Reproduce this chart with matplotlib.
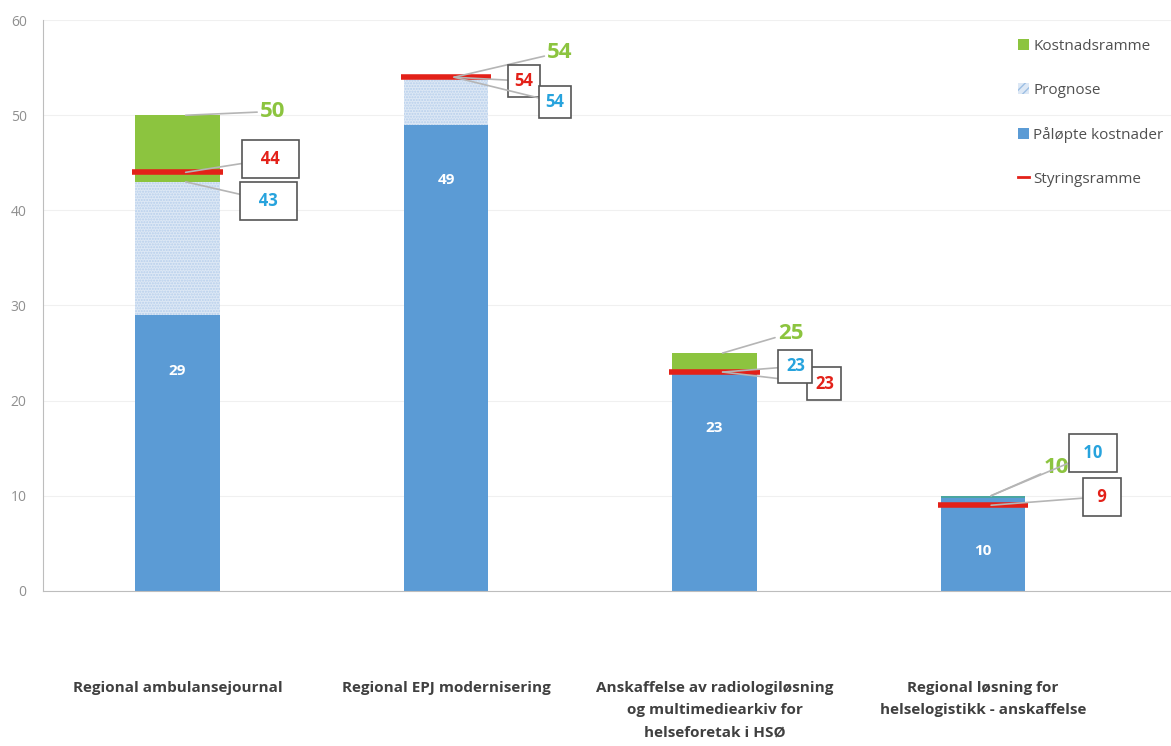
import matplotlib.pyplot as plt
from matplotlib.patches import Patch
from matplotlib.lines import Line2D

plt.rcParams['font.family'] = ['Open Sans', 'DejaVu Sans']

# project names and cost figures (MNOK)
projects = [
    'Regional ambulansejournal',
    'Regional EPJ modernisering',
    'Anskaffelse av radiologiløsning\nog multimediearkiv for\nhelseforetak i HSØ',
    'Regional løsning for\nhelselogistikk - anskaffelse',
]
paalopte = [29, 49, 23, 10]
prognose = [43, 54, 23, 10]
kostnadsramme = [50, 54, 25, 10]
styringsramme = [44, 54, 23, 9]

# label placement relative to each bar (x offset, y value)
green_pos = [(0.354, 50.4), (0.424, 56.6), (0.283, 27.1), (0.272, 13.0)]
red_pos = [(0.346, 45.4), (0.290, 53.6), (0.409, 21.75), (0.443, 9.9)]
blue_pos = [(0.339, 41.0), (0.406, 51.4), (0.301, 23.6), (0.409, 14.5)]
# padding (spaces, box pad) for the boxed labels
box_fill = [(2, 0.6), (0, 0.4), (0, 0.45), (1, 0.6)]

BLUE = '#5b9bd5'
GREEN = '#8cc43f'
RED = '#e32119'
CYAN = '#27a3dd'

fig = plt.figure(figsize=(11.71, 7.46), dpi=100)
ax = fig.add_axes([0.037, 0.208, 0.963, 0.765])

x = list(range(len(projects)))
w = 0.316

ax.bar(x, paalopte, width=w, color=BLUE, zorder=2)
hatch_h = [p - a for p, a in zip(prognose, paalopte)]
ax.bar(x, hatch_h, width=w, bottom=paalopte, color='#dde8f5',
       edgecolor='#b7cfec', hatch='......', linewidth=0, zorder=2)
green_h = [k - p for k, p in zip(kostnadsramme, prognose)]
ax.bar(x, green_h, width=w, bottom=prognose, color=GREEN, zorder=2)
# thin cap on the last bar
ax.bar(x[3], 0.25, width=w, bottom=paalopte[3] - 0.25, color='#4aa6a0', zorder=2)

for i, s in enumerate(styringsramme):
    ax.plot([i - w / 2 - 0.01, i + w / 2 + 0.01], [s, s], color=RED, lw=4,
            solid_capstyle='butt', zorder=4)

lead = dict(arrowstyle='-', color='#b5b5b5', lw=1.2, shrinkA=0, shrinkB=0)
for i in x:
    sp, pad = box_fill[i]
    box = dict(boxstyle='square,pad=%s' % pad, fc='white', ec='#555555', lw=1.2)
    fill = ' ' * sp
    gx, gy = green_pos[i]
    ax.annotate(str(kostnadsramme[i]), xy=(i + 0.03, kostnadsramme[i]),
                xytext=(i + gx, gy), color=GREEN, fontsize=16, fontweight='bold',
                ha='center', va='center', arrowprops=lead, zorder=5)
    rx, ry = red_pos[i]
    ax.annotate(fill + str(styringsramme[i]) + fill,
                xy=(i + 0.03, styringsramme[i]),
                xytext=(i + rx, ry), color=RED, fontsize=12, fontweight='bold',
                ha='center', va='center', bbox=box, arrowprops=lead, zorder=6)
    bx, by = blue_pos[i]
    ax.annotate(fill + str(prognose[i]) + fill, xy=(i + 0.03, prognose[i]),
                xytext=(i + bx, by), color=CYAN, fontsize=12, fontweight='bold',
                ha='center', va='center', bbox=box, arrowprops=lead, zorder=6)
    ax.annotate(str(paalopte[i]), xy=(i, paalopte[i]), xytext=(0, -40),
                textcoords='offset points', color='white', fontsize=11,
                fontweight='bold', ha='center', va='center', zorder=5)

ax.set_xlim(-0.5, 3.7)
ax.set_ylim(0, 60)
ax.set_yticks(range(0, 61, 10))
ax.set_xticks(x)
ax.set_xticklabels(projects, fontsize=11, fontweight='bold', color='#404040',
                   linespacing=1.75, va='top')
ax.tick_params(axis='x', length=0, pad=65)
ax.tick_params(axis='y', length=0, colors='#8f8f8f', labelsize=10, pad=12)
ax.grid(axis='y', color='#f0f0f0', lw=0.8, zorder=0)
for side in ('top', 'right'):
    ax.spines[side].set_visible(False)
ax.spines['left'].set_color('#bdbdbd')
ax.spines['bottom'].set_color('#bdbdbd')

handles = [
    Patch(facecolor=GREEN, label='Kostnadsramme'),
    Patch(facecolor='#dde8f5', edgecolor='#9dbfe3', hatch='////', lw=0,
          label='Prognose'),
    Patch(facecolor=BLUE, label='Påløpte kostnader'),
    Line2D([], [], color=RED, lw=2, label='Styringsramme'),
]
leg = ax.legend(handles=handles, loc='upper right', bbox_to_anchor=(1.0, 0.981),
                frameon=False, labelspacing=1.9, fontsize=11,
                borderaxespad=0.1,
                handlelength=0.7, handleheight=0.7, handletextpad=0.3)
for t in leg.get_texts():
    t.set_color('#505050')

fig.savefig('out.png', dpi=100)
